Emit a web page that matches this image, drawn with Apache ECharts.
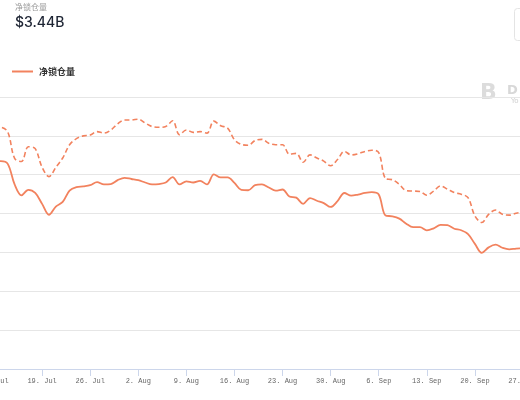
<!DOCTYPE html>
<html>
<head>
<meta charset="utf-8">
<script src="https://cdn.jsdelivr.net/npm/echarts@6/dist/echarts.min.js"></script>
<style>
html,body{margin:0;padding:0;background:#fff;}
#c{width:520px;height:400px;}
</style>
</head>
<body>
<div id="c"></div>
<script>
// Day index 0 = 12 Jul, one value per day (billions USD)
const tickLabels = ['12. Jul','19. Jul','26. Jul','2. Aug','9. Aug','16. Aug','23. Aug','30. Aug','6. Sep','13. Sep','20. Sep','27. Sep'];
const netLocked = [5.35,5.35,5.28,4.75,4.47,4.61,4.53,4.25,3.97,4.18,4.30,4.59,4.68,4.70,4.73,4.81,4.75,4.76,4.86,4.92,
  4.89,4.86,4.80,4.75,4.76,4.80,4.94,4.75,4.83,4.80,4.84,4.75,5.01,4.93,4.93,4.79,4.61,4.60,4.73,4.75,
  4.67,4.59,4.62,4.44,4.41,4.25,4.40,4.33,4.27,4.17,4.32,4.53,4.46,4.49,4.53,4.55,4.49,3.95,3.93,3.87,
  3.74,3.65,3.65,3.57,3.62,3.71,3.70,3.61,3.57,3.47,3.22,2.99,3.13,3.20,3.12,3.08,3.10,3.11];
const dashedSeries = [6.23,6.22,6.10,5.42,5.34,5.72,5.67,5.19,4.95,5.19,5.43,5.77,5.93,6.00,6.02,6.11,6.07,6.15,6.31,6.41,
  6.41,6.43,6.33,6.24,6.22,6.24,6.39,6.03,6.15,6.09,6.11,6.07,6.38,6.26,6.20,5.90,5.78,5.76,5.88,5.91,
  5.81,5.77,5.77,5.53,5.55,5.32,5.51,5.43,5.35,5.23,5.39,5.60,5.51,5.54,5.60,5.63,5.57,4.90,4.87,4.75,
  4.59,4.58,4.57,4.47,4.58,4.71,4.63,4.54,4.50,4.41,3.94,3.77,3.98,4.09,3.98,3.96,4.01,4.03];
const titleText = '净锁仓量';
const currentValue = '$3.44B';
const legendName = '净锁仓量';

const chart = echarts.init(document.getElementById('c'), null, {renderer:'canvas'});
const lineColor = '#f2825e';
chart.setOption({
  animation:false,
  backgroundColor:'#fff',
  title:[
    {text:titleText, left:15, top:3, padding:0, textStyle:{fontSize:8, fontWeight:'normal', color:'#9a9a9a', fontFamily:'Noto Sans CJK SC'}},
    {text:currentValue, left:15, top:16, padding:0, textStyle:{fontSize:14, fontWeight:500, color:'#1d2433', fontFamily:'Inter'}}
  ],
  legend:{
    data:[legendName], left:12, top:67, padding:0, icon:'rect', itemWidth:21, itemHeight:2, itemGap:6,
    textStyle:{fontSize:9, color:'#333', fontWeight:'bold', fontFamily:'Noto Sans CJK SC', padding:[0,0,0,1]}
  },
  grid:{left:-6, right:-3, top:97, bottom:31, containLabel:false, outerBoundsMode:'none'},
  xAxis:{
    type:'value', min:0, max:77, interval:7,
    axisLine:{show:true, lineStyle:{color:'#ccd6eb'}},
    axisTick:{show:true, length:7, lineStyle:{color:'#ccd6eb'}},
    splitLine:{show:false},
    axisLabel:{showMinLabel:true, showMaxLabel:true, hideOverlap:false, margin:9, color:'#666', fontSize:7, fontFamily:'Liberation Mono',
      formatter:v=>tickLabels[Math.round(v/7)] || ''}
  },
  yAxis:{
    type:'value', min:0, max:7, interval:1,
    axisLine:{show:false}, axisTick:{show:false}, axisLabel:{show:false},
    splitLine:{lineStyle:{color:'#e6e6e6'}}
  },
  series:[
    {name:legendName, type:'line', smooth:0.35, showSymbol:false, symbol:'none', clip:true,
      lineStyle:{color:lineColor, width:1.8}, itemStyle:{color:lineColor},
      data:netLocked.map((v,i)=>[i,v])},
    {name:'总量', type:'line', smooth:0.35, showSymbol:false, symbol:'none', clip:true,
      lineStyle:{color:lineColor, width:1.6, type:[5,3]}, itemStyle:{color:lineColor},
      data:dashedSeries.map((v,i)=>[i,v])}
  ],
  graphic:[
    {type:'rect', shape:{x:514.5, y:8.5, width:20, height:32, r:3}, style:{fill:'none', stroke:'#e4e4e4', lineWidth:1}},
    {type:'text', left:480, top:82, style:{text:'B', font:'bold 22px DejaVu Sans', fill:'#dcdcdc'}},
    {type:'text', left:507, top:84, style:{text:'D', font:'bold 13px DejaVu Sans', fill:'#d8d8d8'}},
    {type:'text', left:511, top:98, style:{text:'Yo', font:'7px DejaVu Sans', fill:'#d0d0d0'}}
  ]
});
</script>
</body>
</html>
